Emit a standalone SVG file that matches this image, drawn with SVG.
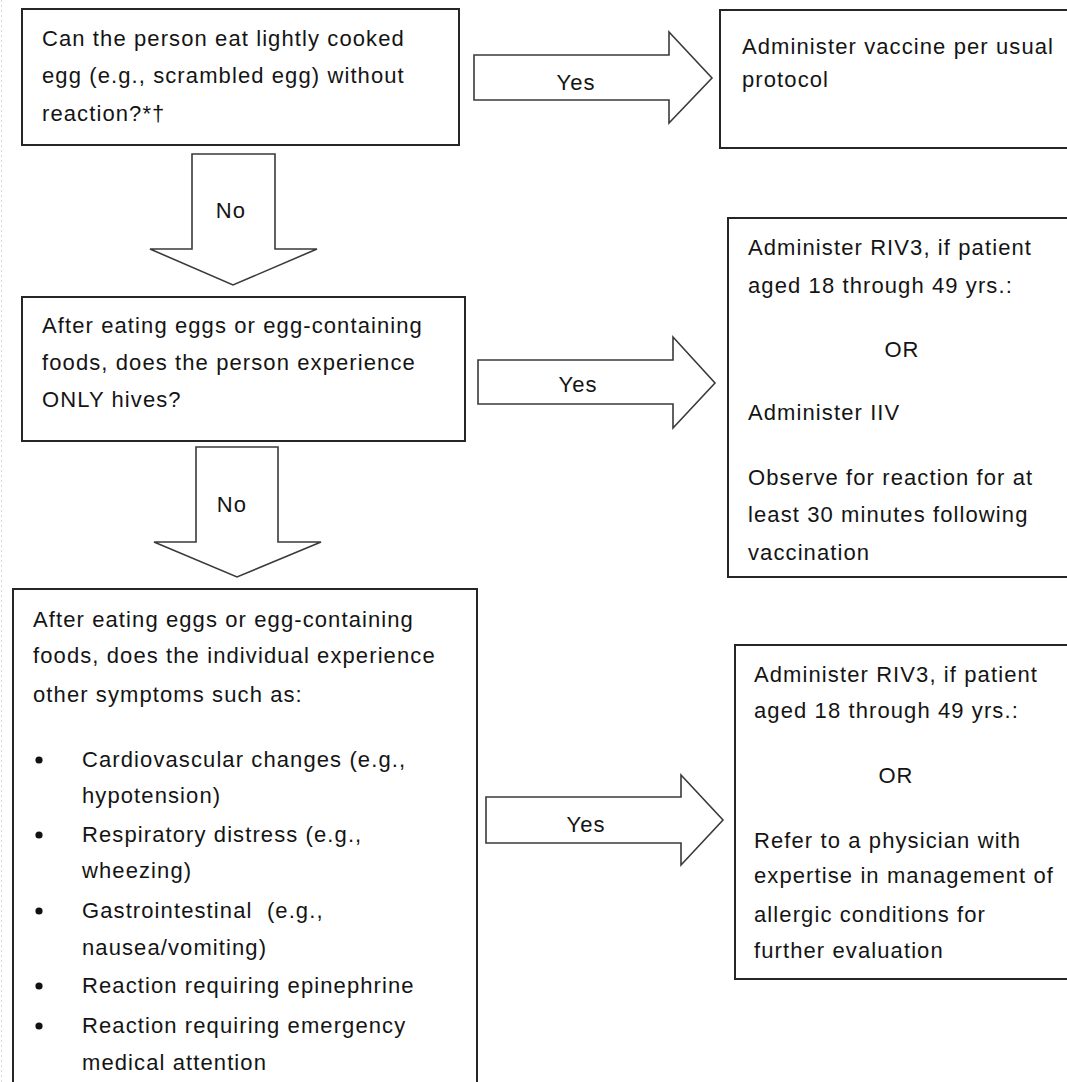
<svg xmlns="http://www.w3.org/2000/svg" width="1067" height="1082" viewBox="0 0 1067 1082">
<style>
.box{fill:#fff;stroke:#262626;stroke-width:2}
.arr{fill:#fff;stroke:#3a3a3a;stroke-width:1.6;stroke-linejoin:miter}
text{font-family:"Liberation Sans",Arial,sans-serif;font-size:22px;letter-spacing:1.1px;fill:#141414}
.c{text-anchor:middle}
.dot{fill:#111}
</style>
<rect width="1067" height="1082" fill="#fff"/>
<line x1="1.5" y1="0" x2="1.5" y2="1082" stroke="#d8d8d8" stroke-width="1" stroke-dasharray="2,3"/>
<g id="connectors">
<g id="yes1"><path class="arr" d="M474,55 H669 V32 L712,78 L669,123 V100 H474 Z"/><text class="c" x="576" y="90">Yes</text></g>
<g id="no1"><path class="arr" d="M192,154 H275 V249 H317 L233,285 L150,249 H192 Z"/><text class="c" x="231" y="218">No</text></g>
<g id="yes2"><path class="arr" d="M478,360 H673 V337 L715,383 L673,428 V404 H478 Z"/><text class="c" x="578" y="392">Yes</text></g>
<g id="no2"><path class="arr" d="M196,447 H278 V542 H321 L237,577 L154,542 H196 Z"/><text class="c" x="232" y="512">No</text></g>
<g id="yes3"><path class="arr" d="M486,797 H681 V775 L723,820 L681,865 V843 H486 Z"/><text class="c" x="586" y="832">Yes</text></g>
</g>
<g id="q1">
<rect class="box" x="22" y="9" width="437" height="136"/>
<text x="42" y="46">Can the person eat lightly cooked</text>
<text x="42" y="83">egg (e.g., scrambled egg) without</text>
<text x="42" y="121">reaction?*†</text>
</g>
<g id="a1">
<rect class="box" x="720" y="10" width="360" height="138"/>
<text x="742" y="54">Administer vaccine per usual</text>
<text x="742" y="87">protocol</text>
</g>
<g id="q2">
<rect class="box" x="22" y="297" width="443" height="144"/>
<text x="42" y="333">After eating eggs or egg-containing</text>
<text x="42" y="370">foods, does the person experience</text>
<text x="42" y="407">ONLY hives?</text>
</g>
<g id="a2">
<rect class="box" x="728" y="218" width="350" height="359"/>
<text x="748" y="255">Administer RIV3, if patient</text>
<text x="748" y="293">aged 18 through 49 yrs.:</text>
<text class="c" x="902" y="357">OR</text>
<text x="748" y="420">Administer IIV</text>
<text x="748" y="485">Observe for reaction for at</text>
<text x="748" y="522">least 30 minutes following</text>
<text x="748" y="560">vaccination</text>
</g>
<g id="q3">
<rect class="box" x="13" y="589" width="464" height="510"/>
<text x="33" y="627">After eating eggs or egg-containing</text>
<text x="33" y="663">foods, does the individual experience</text>
<text x="33" y="702">other symptoms such as:</text>
<circle class="dot" cx="39" cy="760" r="3.6"/>
<text x="82" y="767">Cardiovascular changes (e.g.,</text>
<text x="82" y="803">hypotension)</text>
<circle class="dot" cx="39" cy="835" r="3.6"/>
<text x="82" y="842">Respiratory distress (e.g.,</text>
<text x="82" y="878">wheezing)</text>
<circle class="dot" cx="39" cy="911" r="3.6"/>
<text x="82" y="918" xml:space="preserve">Gastrointestinal  (e.g.,</text>
<text x="82" y="955">nausea/vomiting)</text>
<circle class="dot" cx="39" cy="986" r="3.6"/>
<text x="82" y="993">Reaction requiring epinephrine</text>
<circle class="dot" cx="39" cy="1026" r="3.6"/>
<text x="82" y="1033">Reaction requiring emergency</text>
<text x="82" y="1070">medical attention</text>
</g>
<g id="a3">
<rect class="box" x="735" y="645" width="345" height="334"/>
<text x="754" y="682">Administer RIV3, if patient</text>
<text x="754" y="718">aged 18 through 49 yrs.:</text>
<text class="c" x="896" y="783">OR</text>
<text x="754" y="848">Refer to a physician with</text>
<text x="754" y="883">expertise in management of</text>
<text x="754" y="922">allergic conditions for</text>
<text x="754" y="958">further evaluation</text>
</g>
</svg>
